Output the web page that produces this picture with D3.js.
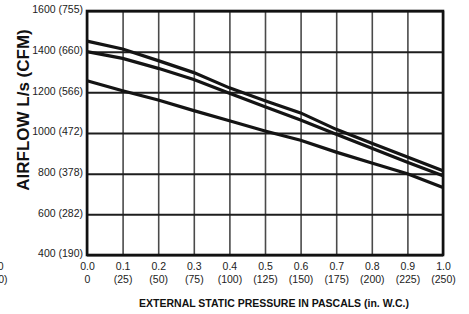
<!DOCTYPE html>
<html>
<head>
<meta charset="utf-8">
<script src="https://cdn.jsdelivr.net/npm/d3@7"></script>
<style>
	body { margin: 0; background: #fff; }
	svg { display: block; font-family: "Liberation Sans", Arial, Helvetica, sans-serif; }
	.tick text { font-size: 10.5px; fill: #222; }
</style>
</head>
<body>
<div id="graph-container"></div>
<script>
// external static pressure (in. W.C.) and matching pascals
const pressure = [0.0, 0.1, 0.2, 0.3, 0.4, 0.5, 0.6, 0.7, 0.8, 0.9, 1.0];
const pascals = [0, 25, 50, 75, 100, 125, 150, 175, 200, 225, 250];
// airflow ticks L/s and CFM
const airflowTicks = [400, 600, 800, 1000, 1200, 1400, 1600];
const cfmTicks = [190, 282, 378, 472, 566, 660, 755];
// three fan curves, L/s
const curveHigh = [1452, 1413, 1356, 1297, 1222, 1159, 1099, 1018, 950, 882, 814];
const curveMed = [1400, 1367, 1318, 1263, 1195, 1129, 1064, 994, 925, 856, 790];
const curveLow = [1257, 1208, 1162, 1110, 1060, 1010, 964, 906, 852, 800, 732];

document.addEventListener("DOMContentLoaded", function () {
	builder();
});

function builder() {
	const w = 469;
	const h = 314;
	const left = 87, right = 443, top = 11, bottom = 255;

	const svg = d3.select("#graph-container")
		.append("svg")
		.attr("width", w)
		.attr("height", h);

	const x = d3.scaleLinear().domain([0, 1]).range([left, right]);
	const y = d3.scaleLinear().domain([400, 1600]).range([bottom, top]);

	// vertical grid + x labels
	const xAxis = svg.append("g")
		.attr("transform", `translate(0,${bottom})`)
		.call(d3.axisBottom(x)
			.tickValues(pressure)
			.tickSize(-(bottom - top))
			.tickPadding(7.5)
			.tickFormat(d3.format(".1f")));
	xAxis.select(".domain").remove();
	xAxis.selectAll(".tick line").attr("stroke", "#4a4a4a").attr("stroke-width", 1.6);
	xAxis.selectAll(".tick text")
		.append("tspan")
		.attr("x", 0)
		.attr("dy", "1.25em")
		.text((d, i) => i === 0 ? pascals[i] : `(${pascals[i]})`);

	// horizontal grid + y labels
	const yAxis = svg.append("g")
		.attr("transform", `translate(${left},0)`)
		.call(d3.axisLeft(y)
			.tickValues(airflowTicks)
			.tickSize(-(right - left))
			.tickPadding(4)
			.tickFormat((d, i) => `${d} (${cfmTicks[i]})`));
	yAxis.select(".domain").remove();
	yAxis.selectAll(".tick line").attr("stroke", "#1e1e1e").attr("stroke-width", 2);
	yAxis.selectAll(".tick text").attr("y", -1.5);

	// frame
	svg.append("rect")
		.attr("x", left)
		.attr("y", top)
		.attr("width", right - left)
		.attr("height", bottom - top)
		.attr("fill", "none")
		.attr("stroke", "#111")
		.attr("stroke-width", 2.6);

	// curves
	const line = d3.line()
		.x((d, i) => x(pressure[i]))
		.y(d => y(d));
	[curveHigh, curveMed, curveLow].forEach(c => {
		svg.append("path")
			.datum(c)
			.attr("d", line)
			.attr("fill", "none")
			.attr("stroke", "#141414")
			.attr("stroke-width", 3.2);
	});

	// axis titles
	svg.append("text")
		.attr("transform", "translate(23,110) rotate(-90)")
		.attr("text-anchor", "middle")
		.attr("dominant-baseline", "central")
		.style("font-size", "17px")
		.style("font-weight", "bold")
		.attr("fill", "#111")
		.text("AIRFLOW L/s (CFM)");

	svg.append("text")
		.attr("x", 274)
		.attr("y", 307)
		.attr("text-anchor", "middle")
		.style("font-size", "10.5px")
		.style("font-weight", "bold")
		.attr("fill", "#111")
		.text("EXTERNAL STATIC PRESSURE IN PASCALS (in. W.C.)");

	// clipped remnant of a neighbouring chart at the left edge
	svg.append("text")
		.attr("x", 3.5).attr("y", 270)
		.attr("text-anchor", "end")
		.style("font-size", "10.5px").attr("fill", "#222")
		.text("1.0");
	svg.append("text")
		.attr("x", 7.5).attr("y", 283)
		.attr("text-anchor", "end")
		.style("font-size", "10.5px").attr("fill", "#222")
		.text("(250)");
}
</script>
</body>
</html>
